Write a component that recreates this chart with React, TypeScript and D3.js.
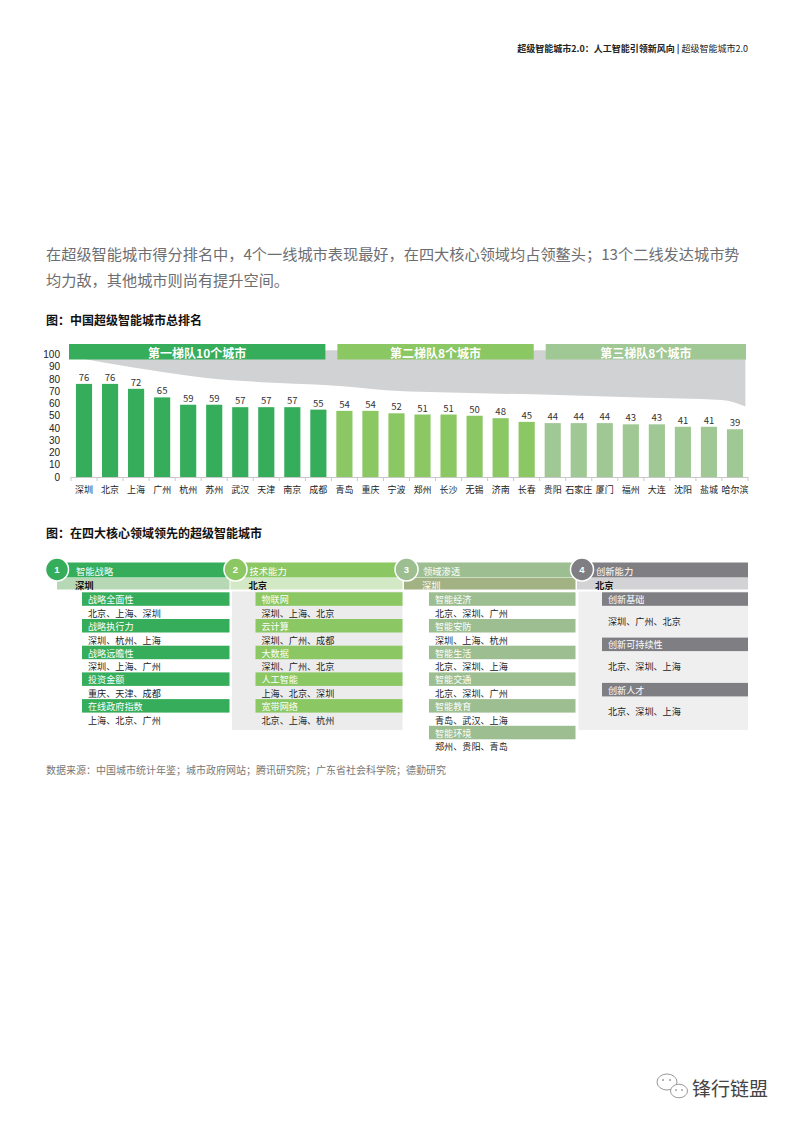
import React from "react";
import * as d3 from "d3";

const cities = ["深圳","北京","上海","广州","杭州","苏州","武汉","天津","南京","成都","青岛","重庆","宁波","郑州","长沙","无锡","济南","长春","贵阳","石家庄","厦门","福州","大连","沈阳","盐城","哈尔滨"];
const scores = [76,76,72,65,59,59,57,57,57,55,54,54,52,51,51,50,48,45,44,44,44,43,43,41,41,39];
const tierNames = ["第一梯队10个城市","第二梯队8个城市","第三梯队8个城市"];
const tierSizes = [10, 8, 8];
const tierColors = ["#35ad5b", "#8bc763", "#a0c894"];
const yTicks = [0,10,20,30,40,50,60,70,80,90,100];

// decorative swoosh outline (band index, chart value)
const swooshIdx = [0.15, 0.73, 3.03, 5.2, 8.0, 10.3, 12.25, 15.3, 18.7, 21.85, 25.0, 25.9];
const swooshVal = [98, 95.5, 87.3, 80.8, 76.7, 74.3, 70.6, 68.6, 67, 65, 62.9, 57.5];

const domainNumbers = ["1","2","3","4"];
const domainTitles = ["智能战略","技术能力","领域渗透","创新能力"];
const domainLeaders = ["深圳","北京","深圳","北京"];
const domainItems = [
  ["战略全面性","战略执行力","战略远瞻性","投资金额","在线政府指数"],
  ["物联网","云计算","大数据","人工智能","宽带网络"],
  ["智能经济","智能安防","智能生活","智能交通","智能教育","智能环境"],
  ["创新基础","创新可持续性","创新人才"],
];
const domainCities = [
  ["北京、上海、深圳","深圳、杭州、上海","深圳、上海、广州","重庆、天津、成都","上海、北京、广州"],
  ["深圳、上海、北京","深圳、广州、成都","深圳、广州、北京","上海、北京、深圳","北京、上海、杭州"],
  ["北京、深圳、广州","深圳、上海、杭州","北京、深圳、上海","北京、深圳、广州","青岛、武汉、上海","郑州、贵阳、青岛"],
  ["深圳、广州、北京","北京、深圳、上海","北京、深圳、上海"],
];
const domainMain = ["#35ad5b", "#8bc763", "#9cbe90", "#7f7e83"];
const domainSub = ["#b7d8b5", "#d3e8c5", "#a3b283", "#d3d3d5"];
const domainSubText = ["#111", "#111", "#fff", "#111"];
const domainBg = [null, "#ececec", null, "#efefef"];

const FONT = "'Noto Sans CJK SC', 'Noto Sans', sans-serif";
const NUMFONT = "'Liberation Sans', Arial, sans-serif";

export default function App() {
  const W = 793, H = 1122;
  const x = d3.scaleBand<string>().domain(cities).range([71, 748]).paddingInner(0.38).paddingOuter(0.19);
  const y = d3.scaleLinear().domain([0, 100]).range([477, 354.5]);
  const step = x.step();
  const x0 = 71;

  // swoosh
  const bottom = swooshIdx.map((d, i) => [x0 + d * step, y(swooshVal[i])] as [number, number]);
  const line = d3.line().curve(d3.curveMonotoneX);
  const topY = y(103.5);
  const last = bottom[bottom.length - 1];
  const swooshPath = `M${bottom[0][0]},${topY} L${last[0]},${topY} L${last[0]},${last[1]} ` +
    (line(bottom.slice().reverse()) as string).replace(/^M/, "L") + " Z";

  // tiers
  let acc = 0;
  const tiers = tierSizes.map((n, i) => {
    const s = acc; acc += n;
    const bs = x0 + s * step, be = x0 + acc * step;
    const start = bs + (i === 0 ? -2 : 6);
    const end = be - (i === tierSizes.length - 1 ? 2 : 6);
    return { name: tierNames[i], start, end, color: tierColors[i] };
  });
  const tierOf = (idx: number) => { let a = 0; for (let t = 0; t < tierSizes.length; t++) { a += tierSizes[t]; if (idx < a) return t; } return 2; };

  // domains layout
  const L = [57, 230.5, 404, 577];
  const R = [229.5, 402.5, 575.5, 748];
  const CX = [57, 235.5, 406.5, 582];
  const CY = 569.5;

  return (
    <div style={{ position: "absolute", left: 0, top: 0, width: W, height: H, background: "#fff" }}>
      <svg width={W} height={H} style={{ display: "block", fontFamily: FONT }}>
        {/* header */}
        <text x={748} y={48} textAnchor="end" dominantBaseline="central" fontSize={9} fill="#222">
          <tspan fontWeight="bold">超级智能城市2.0：人工智能引领新风向</tspan>
          <tspan fontWeight="bold"> | </tspan>
          <tspan>超级智能城市2.0</tspan>
        </text>

        {/* paragraph */}
        <text x={46} y={253} dominantBaseline="central" fontSize={15.2} fill="#6d6e71">在超级智能城市得分排名中，4个一线城市表现最好，在四大核心领域均占领鳌头；13个二线发达城市势</text>
        <text x={46} y={278.5} dominantBaseline="central" fontSize={15.2} fill="#6d6e71">均力敌，其他城市则尚有提升空间。</text>

        {/* chart 1 title */}
        <text x={46} y={319} dominantBaseline="central" fontSize={12} fontWeight="bold" fill="#111">图：中国超级智能城市总排名</text>

        {/* swoosh */}
        <path d={swooshPath} fill="#d1d2d4" />

        {/* tier banners */}
        {tiers.map((t, i) => (
          <g key={i}>
            <rect x={t.start} y={344} width={t.end - t.start} height={15.5} fill={t.color} />
            <text x={(t.start + t.end) / 2} y={352} textAnchor="middle" dominantBaseline="central" fontSize={12} fontWeight="bold" fill="#fff">{t.name}</text>
          </g>
        ))}

        {/* y axis labels */}
        {yTicks.map((v) => (
          <text key={v} x={60} y={y(v)} textAnchor="end" dominantBaseline="central" fontSize={10} fontFamily={NUMFONT} fill="#222">{v}</text>
        ))}

        {/* bars */}
        {cities.map((c, i) => (
          <g key={c}>
            <rect x={x(c)} y={y(scores[i])} width={x.bandwidth()} height={y(0) - y(scores[i])} fill={tierColors[tierOf(i)]} />
            <text x={(x(c) as number) + x.bandwidth() / 2} y={y(scores[i]) - 7} textAnchor="middle" dominantBaseline="central" fontSize={9.5} fill="#333">{scores[i]}</text>
            <text x={(x(c) as number) + x.bandwidth() / 2} y={489} textAnchor="middle" dominantBaseline="central" fontSize={9} fill="#222">{c}</text>
          </g>
        ))}

        {/* x axis */}
        <line x1={x0} x2={748} y1={y(0) + 0.5} y2={y(0) + 0.5} stroke="#c8c8c8" strokeWidth={1} />
        {d3.range(cities.length + 1).map((k) => (
          <line key={k} x1={x0 + k * step} x2={x0 + k * step} y1={y(0)} y2={y(0) + 4} stroke="#c8c8c8" strokeWidth={1} />
        ))}

        {/* chart 2 title */}
        <text x={46} y={532} dominantBaseline="central" fontSize={12} fontWeight="bold" fill="#111">图：在四大核心领域领先的超级智能城市</text>

        {/* domain columns backgrounds */}
        {domainBg.map((bg, i) => bg ? (
          <rect key={"bg" + i} x={L[i] + 1.5} y={591.5} width={R[i] - L[i] - 1.5} height={138.5} fill={bg} />
        ) : null)}

        {domainTitles.map((title, i) => {
          const items = domainItems[i];
          const isLast = i === 3;
          const pitch = isLast ? 45.3 : 26.7;
          const valOff = isLast ? 28.5 : 20.5;
          return (
            <g key={"dom" + i}>
              <rect x={CX[i]} y={562.5} width={R[i] - CX[i]} height={15} fill={domainMain[i]} />
              <rect x={L[i]} y={578} width={R[i] - L[i]} height={11.5} fill={domainSub[i]} />
              <text x={L[i] + 19} y={570.5} dominantBaseline="central" fontSize={9.3} fill="#fff">{title}</text>
              <text x={L[i] + 18} y={584.5} dominantBaseline="central" fontSize={9.3} fontWeight={i === 2 ? "normal" : "bold"} fill={domainSubText[i]}>{domainLeaders[i]}</text>
              {items.map((it, k) => {
                const top = 592.3 + k * pitch;
                return (
                  <g key={k}>
                    <rect x={L[i] + 25} y={top} width={R[i] - L[i] - 25} height={13.5} fill={domainMain[i]} />
                    <text x={L[i] + 31} y={top + 6.8} dominantBaseline="central" fontSize={9.1} fill="#fff">{it}</text>
                    <text x={L[i] + 31} y={top + valOff} dominantBaseline="central" fontSize={9.1} fill="#222">{domainCities[i][k]}</text>
                  </g>
                );
              })}
              <circle cx={CX[i]} cy={CY} r={11.5} fill={domainMain[i]} stroke="#fff" strokeWidth={1.5} />
              <text x={CX[i]} y={CY} textAnchor="middle" dominantBaseline="central" fontSize={9.5} fontWeight="bold" fontFamily={NUMFONT} fill="#fff">{domainNumbers[i]}</text>
            </g>
          );
        })}

        {/* source */}
        <text x={46} y={769} dominantBaseline="central" fontSize={10} fill="#777">数据来源：中国城市统计年鉴；城市政府网站；腾讯研究院；广东省社会科学院；德勤研究</text>

        {/* watermark */}
        <g fill="#fff" stroke="#999" strokeWidth={1}>
          <ellipse cx={667} cy={1082} rx={10} ry={8} />
          <ellipse cx={679} cy={1091} rx={8.5} ry={6.8} />
        </g>
        <g fill="#999">
          <circle cx={663} cy={1080} r={1} />
          <circle cx={670} cy={1080} r={1} />
          <circle cx={676} cy={1090} r={0.9} />
          <circle cx={682} cy={1090} r={0.9} />
        </g>
        <text x={692} y={1087} dominantBaseline="central" fontSize={19} fill="#444">锋行链盟</text>
      </svg>
    </div>
  );
}
